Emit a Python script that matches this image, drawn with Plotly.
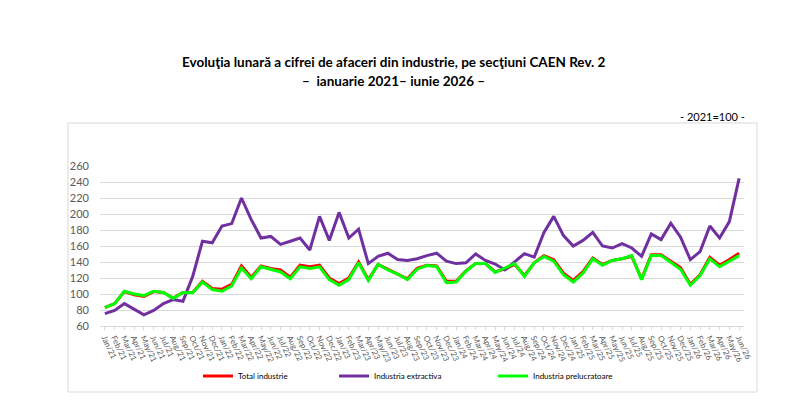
import plotly.graph_objects as go

months = ["Jan", "Feb", "Mar", "Apr", "May", "Jun", "Jul", "Aug", "Sep", "Oct", "Nov", "Dec"]
years = ["21", "22", "23", "24", "25", "26"]
categories = [f"{m}/{y}" for y in years for m in months][:66]

total_industrie = [
    83, 88, 103, 99, 97, 103, 102, 95, 102, 102, 116, 107,
    106, 112, 135, 121, 135, 132, 130, 121, 136, 134, 136, 120,
    113, 120, 140, 118, 137, 131, 126, 119, 132, 136, 135, 116,
    116, 129, 138, 138, 128, 131, 137, 123, 139, 148, 143, 126,
    117, 128, 145, 137, 142, 144, 147, 119, 149, 149, 141, 133,
    112, 124, 146, 136, 143, 151,
]
industria_extractiva = [
    75.5, 79.5, 88, 81.5, 74, 79.5, 88, 93, 91, 122, 166, 164,
    185, 188, 220, 193, 170, 172, 162, 166, 170, 155, 197, 167,
    202, 170, 181, 138, 147, 151, 143, 142, 144, 148, 151, 141,
    138, 139, 150, 142, 137.5, 130, 140, 150.5, 146, 177, 197, 173,
    160, 167, 177, 160, 157.5, 163, 157.5, 147, 175, 168, 188.5, 171,
    143, 153, 185, 170, 190.5, 244.5,
]
industria_prelucratoare = [
    83, 88, 103.5, 100, 98, 103.5, 102, 94.5, 102, 101.5, 115, 105.5,
    103.5, 110, 132.5, 119, 134, 130.5, 127.5, 119, 134, 132, 134, 118,
    111, 118, 139, 117, 137, 130, 125, 118, 131, 135.5, 134.5, 114,
    115, 128.5, 138, 138, 127, 132.5, 138, 122, 139, 147, 141, 124,
    115, 126, 144, 136, 142, 144, 148, 118, 148, 148, 139, 131,
    111, 123, 144, 134, 141, 148,
]
y_ticks = [60, 80, 100, 120, 140, 160, 180, 200, 220, 240, 260]

# the page body has an 8px default margin, so figure pixel (x, y) shows at (x+8, y+8)
OFF = 8
PL, PR, PT, PB = 100 - OFF, 744, 166 - OFF, 326  # plot area (PR, PB in screen pixels)
PW = PR - PL - OFF
PH = PB - PT - OFF


def px(xs):
    return (xs - OFF - PL) / PW


def py(ys):
    return (PB - ys) / PH


fig = go.Figure()
fig.add_trace(go.Scatter(x=categories, y=total_industrie, name="Total industrie",
                         mode="lines", line=dict(color="#ff0000", width=3), legend="legend"))
fig.add_trace(go.Scatter(x=categories, y=industria_extractiva, name="Industria extractiva",
                         mode="lines", line=dict(color="#7030a0", width=3), legend="legend2"))
fig.add_trace(go.Scatter(x=categories, y=industria_prelucratoare, name="Industria prelucratoare",
                         mode="lines", line=dict(color="#00ff00", width=3), legend="legend3"))


def leg(xs):
    return dict(orientation="h", x=px(xs), y=(400 - (376 - OFF)) / 400, xref="paper", yref="container",
                xanchor="left", yanchor="middle", bgcolor="rgba(0,0,0,0)",
                font=dict(size=8, color="#000000"), itemwidth=30)


fig.update_layout(
    width=800, height=400,
    margin=dict(l=PL, r=800 - (PR - OFF), t=PT, b=400 - (PB - OFF), autoexpand=False),
    paper_bgcolor="white", plot_bgcolor="white",
    font=dict(family="Lato, Liberation Sans, sans-serif", color="#595959"),
    showlegend=True,
    legend=leg(198),
    legend2=leg(334),
    legend3=leg(493),
    xaxis=dict(type="category", range=[-0.5, 65.5], tickangle=65,
               tickmode="array", tickvals=categories, ticktext=categories,
               tickfont=dict(size=8, color="#595959"), showgrid=False, automargin=False,
               showline=True, linecolor="#d9d9d9", linewidth=1,
               ticks="outside", ticklen=3, tickcolor="#d9d9d9", fixedrange=True),
    yaxis=dict(range=[60, 260], tickvals=y_ticks, showgrid=True, gridcolor="#d9d9d9",
               gridwidth=1, zeroline=False, showline=False, automargin=False,
               tickfont=dict(size=11, color="#595959"), ticks="", ticklabelstandoff=10),
)

fig.add_shape(type="rect", xref="paper", yref="paper",
              x0=px(68), x1=px(757), y0=py(392), y1=py(123),
              line=dict(color="#d9d9d9", width=1), fillcolor="rgba(0,0,0,0)", layer="below")

fig.add_annotation(text="<b>Evoluţia lunară a cifrei de afaceri din industrie, pe secţiuni CAEN Rev. 2</b>",
                   xref="paper", yref="paper", x=px(394), y=py(62),
                   showarrow=False, font=dict(size=13.5, color="#000000", family="Lato, sans-serif"),
                   xanchor="center", yanchor="middle")
fig.add_annotation(text="<b>–  ianuarie 2021– iunie 2026 –</b>",
                   xref="paper", yref="paper", x=px(393), y=py(81),
                   showarrow=False, font=dict(size=13.5, color="#000000", family="Lato, sans-serif"),
                   xanchor="center", yanchor="middle")
fig.add_annotation(text="- 2021=100 -",
                   xref="paper", yref="paper", x=px(747), y=py(116),
                   showarrow=False, font=dict(size=11, color="#000000", family="Lato, sans-serif"),
                   xanchor="right", yanchor="middle")

fig.write_html("out.html")
